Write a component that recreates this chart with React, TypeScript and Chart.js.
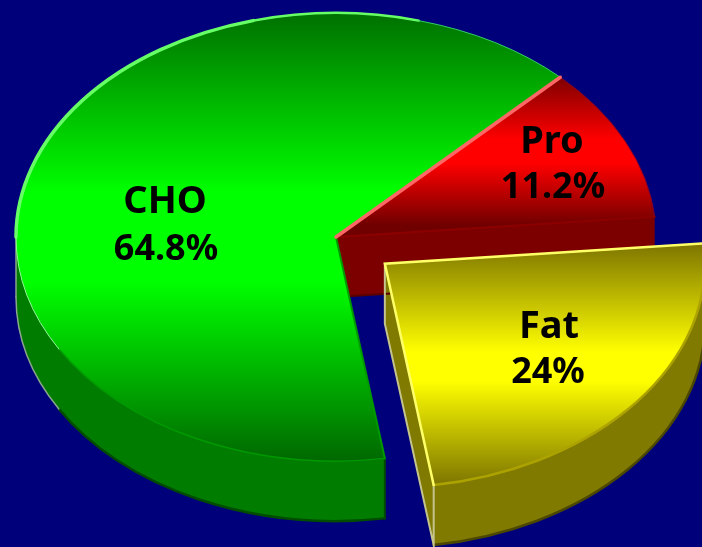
import React, { useEffect, useRef } from "react";
import { Chart, registerables } from "chart.js";

Chart.register(...registerables);

const categories = ["Pro", "Fat", "CHO"];
const values = [11.2, 24, 64.8];
const valueLabels = ["11.2%", "24%", "64.8%"];
const explode = [0, 62, 0];
const bright = ["#ff0000", "#ffff00", "#00ff00"];
const darkTop = ["#800000", "#807800", "#007000"];
const darkBottom = ["#700000", "#7a7200", "#006800"];
const sideColors = ["#7c0000", "#807a00", "#007c00"];

const FONT = '"Noto Sans"';
const TILT = 0.7;
const DEPTH = 60;
const CY = 237;
const toRad = Math.PI / 180;

// Screen-space vertical extents of each slice's shading band
const bands = [
  [78, 225, 0.42, 0.58],
  [246, 487, 0.44, 0.56],
  [13, 461, 0.4, 0.6],
];
const labelPos = [
  [552, 153, 553, 198],
  [549, 338, 548, 383],
  [165, 213, 166, 260],
];

function shade(context: any) {
  const i = context.dataIndex;
  if (i === undefined) return bright[0];
  const ctx = context.chart.ctx;
  const off = explode[i] * Math.sin(38 * toRad);
  const [s0, s1, m0, m1] = bands[i];
  const toLocal = (s: number) => CY + (s - CY) / TILT - off;
  const g = ctx.createLinearGradient(0, toLocal(s0), 0, toLocal(s1));
  g.addColorStop(0, darkTop[i]);
  g.addColorStop(m0, bright[i]);
  g.addColorStop(m1, bright[i]);
  g.addColorStop(1, darkBottom[i]);
  return g;
}

function geometry(el: any) {
  // ArcElement.draw moves a slice by a quarter of its offset option
  const off = (el.options.offset || 0) / 4;
  const mid = (el.startAngle + el.endAngle) / 2;
  return {
    x: el.x + Math.cos(mid) * off,
    y: el.y + Math.sin(mid) * off,
    r: el.outerRadius,
    a0: el.startAngle,
    a1: el.endAngle,
  };
}

function tilt(ctx: CanvasRenderingContext2D) {
  ctx.translate(0, CY);
  ctx.scale(1, TILT);
  ctx.translate(0, -CY);
}

function strokeTilted(
  ctx: CanvasRenderingContext2D,
  build: () => void,
  color: string | CanvasGradient,
  width: number
) {
  ctx.save();
  tilt(ctx);
  ctx.beginPath();
  build();
  ctx.restore();
  ctx.strokeStyle = color;
  ctx.lineWidth = width;
  ctx.lineCap = "round";
  ctx.stroke();
}

const pie3d = {
  id: "pie3d",
  beforeDatasetsDraw(chart: any) {
    const ctx: CanvasRenderingContext2D = chart.ctx;
    const arcs = chart.getDatasetMeta(0).data;
    const d = DEPTH / TILT;
    ctx.save();
    tilt(ctx);
    arcs.forEach((el: any, i: number) => {
      const g = geometry(el);
      ctx.fillStyle = sideColors[i];
      const a0 = Math.max(g.a0, 0);
      const a1 = Math.min(g.a1, Math.PI);
      if (a1 > a0) {
        ctx.beginPath();
        ctx.arc(g.x, g.y, g.r, a0, a1);
        ctx.arc(g.x, g.y + d, g.r, a1, a0, true);
        ctx.closePath();
        ctx.fill();
      }
      const next = (i + 1) % arcs.length;
      if ((explode[i] > 0 || explode[next] > 0) && Math.cos(g.a1) > 0) {
        const rx = g.x + Math.cos(g.a1) * g.r;
        const ry = g.y + Math.sin(g.a1) * g.r;
        ctx.beginPath();
        ctx.moveTo(g.x, g.y);
        ctx.lineTo(rx, ry);
        ctx.lineTo(rx, ry + d);
        ctx.lineTo(g.x, g.y + d);
        ctx.closePath();
        ctx.fill();
      }
    });
    ctx.restore();

    const [pro, fat, cho] = arcs.map(geometry);
    // lower edges of the sides
    strokeTilted(ctx, () => {
      ctx.moveTo(pro.x, pro.y + d);
      ctx.lineTo(pro.x + Math.cos(pro.a1) * pro.r, pro.y + d + Math.sin(pro.a1) * pro.r);
    }, "#5a0000", 2);
    strokeTilted(ctx, () => ctx.arc(cho.x, cho.y + d, cho.r, cho.a0, 150 * toRad), "#004c00", 2.5);
    strokeTilted(ctx, () => ctx.arc(cho.x, cho.y + d, cho.r, 150 * toRad, Math.PI), "#8aa88a", 1.5);
    strokeTilted(ctx, () => {
      const rx = cho.x + Math.cos(cho.a0) * cho.r;
      const ry = cho.y + Math.sin(cho.a0) * cho.r;
      ctx.moveTo(rx, ry);
      ctx.lineTo(rx, ry + d);
    }, "#004c00", 2);
    strokeTilted(ctx, () => {
      ctx.moveTo(cho.x - cho.r, cho.y);
      ctx.lineTo(cho.x - cho.r, cho.y + d);
    }, "#8aa88a", 1.5);
    strokeTilted(ctx, () => ctx.arc(fat.x, fat.y + d, fat.r, 0, fat.a1), "#4c4800", 2.5);
    strokeTilted(ctx, () => {
      const rx = fat.x + Math.cos(fat.a1) * fat.r;
      const ry = fat.y + Math.sin(fat.a1) * fat.r;
      ctx.moveTo(fat.x, fat.y);
      ctx.lineTo(fat.x, fat.y + d);
      ctx.lineTo(rx, ry + d);
      ctx.lineTo(rx, ry);
    }, "#c4c48c", 2);

    // the top faces are drawn by Chart.js inside the tilted frame
    ctx.save();
    tilt(ctx);
  },
  afterDatasetsDraw(chart: any) {
    const ctx: CanvasRenderingContext2D = chart.ctx;
    ctx.restore();
    const arcs = chart.getDatasetMeta(0).data;
    const [pro, fat, cho] = arcs.map(geometry);

    // rims and radial highlights on the top faces
    strokeTilted(ctx, () => ctx.arc(pro.x, pro.y, pro.r, pro.a0, pro.a1), "#800030", 1);
    strokeTilted(ctx, () => {
      ctx.moveTo(pro.x, pro.y);
      ctx.lineTo(pro.x + Math.cos(pro.a1) * pro.r, pro.y + Math.sin(pro.a1) * pro.r);
    }, "#8c0000", 2);
    strokeTilted(ctx, () => ctx.arc(cho.x, cho.y, cho.r, 180 * toRad, 255 * toRad), "#66ff66", 3.5);
    strokeTilted(ctx, () => ctx.arc(cho.x, cho.y, cho.r, 255 * toRad, 285 * toRad), "#66ff66", 2.5);
    strokeTilted(ctx, () => ctx.arc(cho.x, cho.y, cho.r, 285 * toRad, cho.a1), "#33cc66", 1);
    strokeTilted(ctx, () => ctx.arc(cho.x, cho.y, cho.r, cho.a0, 150 * toRad), "#009a00", 1.5);
    strokeTilted(ctx, () => ctx.arc(cho.x, cho.y, cho.r, 150 * toRad, 180 * toRad), "#90ff90", 1);
    strokeTilted(ctx, () => {
      ctx.moveTo(cho.x, cho.y);
      ctx.lineTo(cho.x + Math.cos(cho.a0) * cho.r, cho.y + Math.sin(cho.a0) * cho.r);
    }, "#009a00", 2);
    strokeTilted(ctx, () => {
      ctx.moveTo(cho.x, cho.y);
      ctx.lineTo(cho.x + Math.cos(cho.a1) * cho.r, cho.y + Math.sin(cho.a1) * cho.r);
    }, "#ff6666", 3.5);
    strokeTilted(ctx, () => ctx.arc(fat.x, fat.y, fat.r, 0, fat.a1), "#aca200", 2.5);
    strokeTilted(ctx, () => {
      ctx.moveTo(fat.x + Math.cos(fat.a0) * fat.r, fat.y + Math.sin(fat.a0) * fat.r);
      ctx.lineTo(fat.x, fat.y);
      ctx.lineTo(fat.x + Math.cos(fat.a1) * fat.r, fat.y + Math.sin(fat.a1) * fat.r);
    }, "#ffff66", 2.5);

    // labels
    ctx.save();
    ctx.fillStyle = "#000000";
    ctx.textAlign = "center";
    ctx.textBaseline = "alphabetic";
    categories.forEach((name, i) => {
      const [x0, y0, x1, y1] = labelPos[i];
      ctx.font = `bold 38px ${FONT}`;
      ctx.fillText(name, x0, y0);
      ctx.font = `bold 36px ${FONT}`;
      ctx.fillText(valueLabels[i], x1, y1);
    });
    ctx.restore();
  },
};

export default function App() {
  const ref = useRef<HTMLCanvasElement>(null);
  useEffect(() => {
    const chart = new Chart(ref.current!, {
      type: "pie",
      plugins: [pie3d],
      data: {
        labels: categories,
        datasets: [
          {
            data: values,
            backgroundColor: shade,
            borderWidth: 0,
            offset: explode.map((v) => v * 4),
            clip: false,
            hoverOffset: 0,
          } as any,
        ],
      },
      options: {
        animation: false,
        responsive: false,
        rotation: 44.5,
        radius: 320,
        events: [],
        layout: { padding: { right: 30, bottom: 73 } },
        plugins: { legend: { display: false }, tooltip: { enabled: false } },
      } as any,
    });
    return () => chart.destroy();
  }, []);
  return (
    <canvas
      ref={ref}
      width={702}
      height={547}
      style={{ position: "fixed", left: 0, top: 0, width: 702, height: 547, background: "#00007a", display: "block" }}
    />
  );
}
